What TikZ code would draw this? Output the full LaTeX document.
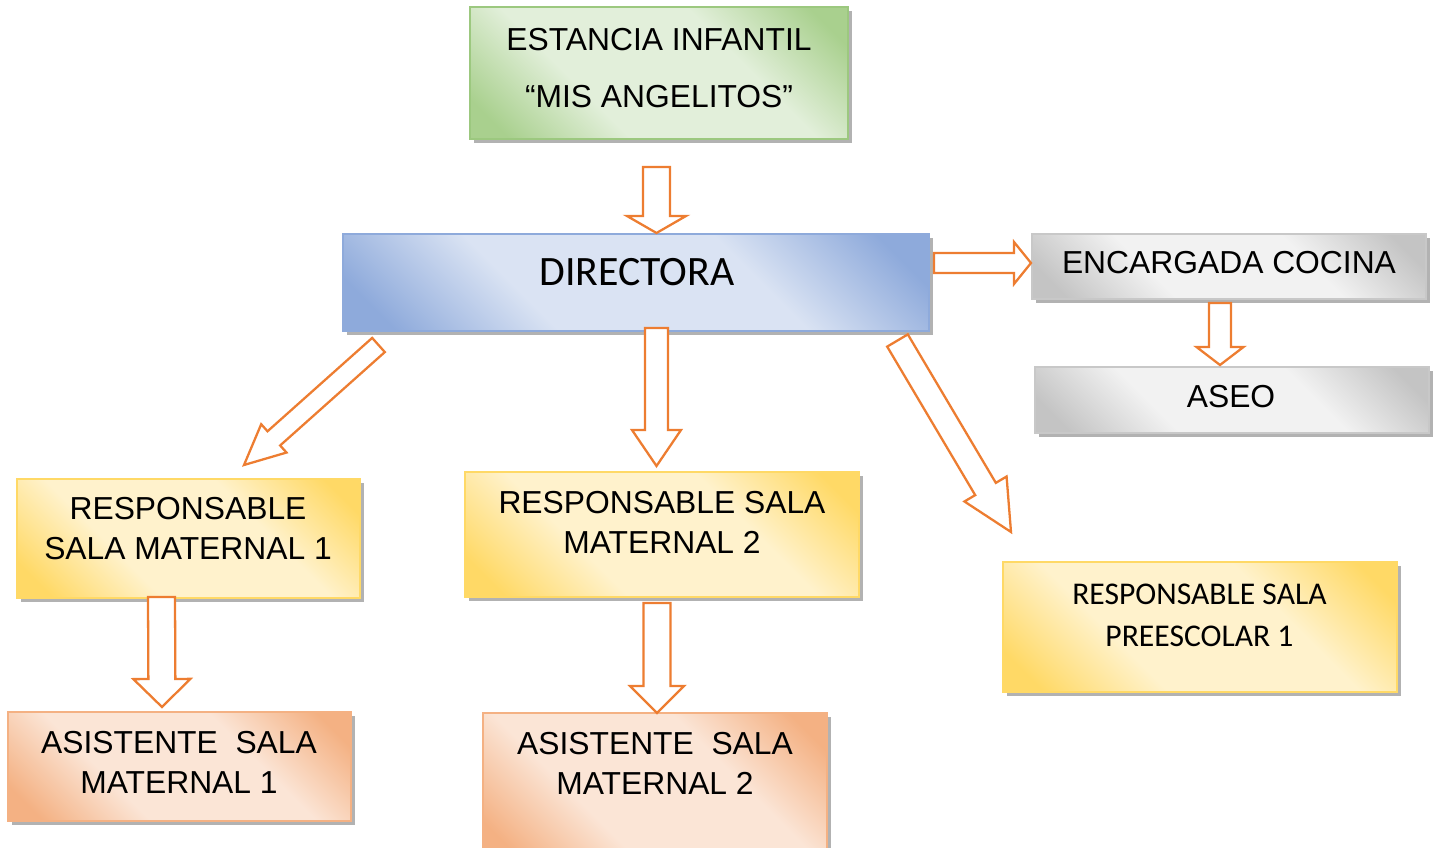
\documentclass[tikz,border=0pt]{standalone}
\usepackage{fontspec}
\setmainfont{Liberation Sans}
\newfontfamily\calibri{Carlito}
\usetikzlibrary{calc,shadows}
\definecolor{arrc}{HTML}{ED7D31}
\definecolor{gdark}{HTML}{A9D08E}\definecolor{glight}{HTML}{E2EFDA}\definecolor{gline}{HTML}{9CC87F}
\definecolor{bdark}{HTML}{8EAADB}\definecolor{blight}{HTML}{DAE3F3}\definecolor{bline}{HTML}{8EAADB}
\definecolor{sdark}{HTML}{C4C4C4}\definecolor{slight}{HTML}{F2F2F2}\definecolor{sline}{HTML}{C8C8C8}
\definecolor{ydark}{HTML}{FFD966}\definecolor{ylight}{HTML}{FFF2CC}\definecolor{yline}{HTML}{FFD966}
\definecolor{odark}{HTML}{F4B183}\definecolor{olight}{HTML}{FBE5D6}\definecolor{oline}{HTML}{F4B183}
\newcommand\mkshade[3]{\pgfdeclareverticalshading{#1}{100bp}{color(0bp)=(#2); color(20bp)=(#2);
  color(37bp)=(#3); color(63bp)=(#3); color(80bp)=(#2); color(100bp)=(#2)}}
\mkshade{shgreen}{gdark}{glight}
\mkshade{shblue}{bdark}{blight}
\mkshade{shgrey}{sdark}{slight}
\mkshade{shyellow}{ydark}{ylight}
\mkshade{shorange}{odark}{olight}
\def\px{0.02cm}
\tikzset{
  box/.style={rectangle, inner sep=0pt, line width=1.1pt, shade, shading angle=-45,
    drop shadow={shadow xshift=2pt, shadow yshift=-2.2pt, fill=black!55, opacity=0.55}},
  greenbox/.style={box, draw=gline, shading=shgreen},
  bluebox/.style={box, draw=bline, shading=shblue},
  greybox/.style={box, draw=sline, shading=shgrey},
  yellowbox/.style={box, draw=yline, shading=shyellow},
  orangebox/.style={box, draw=oline, shading=shorange},
  txt/.style={align=center, inner sep=0pt, font=\fontsize{18.1}{22.8}\selectfont},
  arrowline/.style={draw=arrc, fill=white, line width=1.3pt, line join=miter},
}
% box: name, style, x1, y1, x2, y2 (pixels)
\newcommand\pxbox[6]{%
  \node[#2, minimum width={(#5-#3)*\px}, minimum height={(#6-#4)*\px}] (#1)
    at ({(#3+#5)/2},{(#4+#6)/2}) {};}
% block arrow: tail, tip, shaft half width, head half width, head length (pixels)
\newcommand\blkarr[5]{%
  \coordinate (hb) at ($(#2)!#5*\px!(#1)$);
  \draw[arrowline] ($(#1)!#3*\px!90:(#2)$) -- ($(hb)!#3*\px!90:(#2)$)
    -- ($(hb)!#4*\px!90:(#2)$) -- (#2) -- ($(hb)!#4*\px!-90:(#2)$)
    -- ($(hb)!#3*\px!-90:(#2)$) -- ($(#1)!#3*\px!-90:(#2)$) -- cycle;}
\begin{document}
\begin{tikzpicture}[x=0.02cm, y=-0.02cm]
\useasboundingbox (0,0) rectangle (1437,848);
% boxes
\pxbox{top}{greenbox}{470}{7}{848}{139}
\pxbox{dir}{bluebox}{343}{234}{929}{331}
\pxbox{enc}{greybox}{1032}{234}{1426}{299}
\pxbox{aseo}{greybox}{1035}{367}{1429}{433}
\pxbox{rsm1}{yellowbox}{17}{479}{360}{598}
\pxbox{rsm2}{yellowbox}{465}{472}{859}{597}
\pxbox{pre}{yellowbox}{1003}{562}{1397}{692}
\pxbox{asm1}{orangebox}{8}{712}{351}{821}
\pxbox{asm2}{orangebox}{483}{713}{827}{860}
% texts
\node[txt, font=\fontsize{18.1}{32.4}\selectfont] (topT) at (659,68) {ESTANCIA INFANTIL\\“MIS ANGELITOS”};
\node[txt, font=\calibri\fontsize{23.8}{28}\selectfont] (dirT) at (637,272) {DIRECTORA};
\node[txt] (encT) at (1229,263) {ENCARGADA COCINA};
\node[txt] (aseoT) at (1231,397) {ASEO};
\node[txt] (rsm1T) at (188,529) {RESPONSABLE\\SALA MATERNAL 1};
\node[txt] (rsm2T) at (662,522) {RESPONSABLE SALA\\MATERNAL 2};
\node[txt, font=\calibri\fontsize{18}{24}\selectfont] (preT) at (1199.5,615) {RESPONSABLE SALA\\PREESCOLAR 1};
\node[txt] (asm1T) at (179,762) {ASISTENTE\ \ SALA\\MATERNAL 1};
\node[txt] (asm2T) at (655,763.5) {ASISTENTE\ \ SALA\\MATERNAL 2};
% arrow end points
\coordinate (a1s) at (656.5,167);  \coordinate (a1e) at (656.5,233);
\coordinate (a2s) at (934,263);    \coordinate (a2e) at (1031,263);
\coordinate (a3s) at (1220,303);   \coordinate (a3e) at (1220,365);
\coordinate (a4s) at (378.5,345);  \coordinate (a4e) at (244,465);
\coordinate (a5s) at (656.5,328);  \coordinate (a5e) at (656.5,466);
\coordinate (a6s) at (897.5,340.5);\coordinate (a6e) at (1011,532);
\coordinate (a7s) at (161.5,597);  \coordinate (a7e) at (162,707);
\coordinate (a8s) at (657,603);    \coordinate (a8e) at (657,713);
% arrows
\blkarr{a1s}{a1e}{13.5}{29.5}{17}
\blkarr{a2s}{a2e}{10}{21}{17}
\blkarr{a3s}{a3e}{11}{23.5}{18}
\blkarr{a4s}{a4e}{9.5}{19}{40}
\blkarr{a5s}{a5e}{11.5}{24.5}{36}
\blkarr{a6s}{a6e}{12}{24.5}{50}
\blkarr{a7s}{a7e}{13.5}{28.5}{28}
\blkarr{a8s}{a8e}{13.5}{27}{27}
\end{tikzpicture}
\end{document}
